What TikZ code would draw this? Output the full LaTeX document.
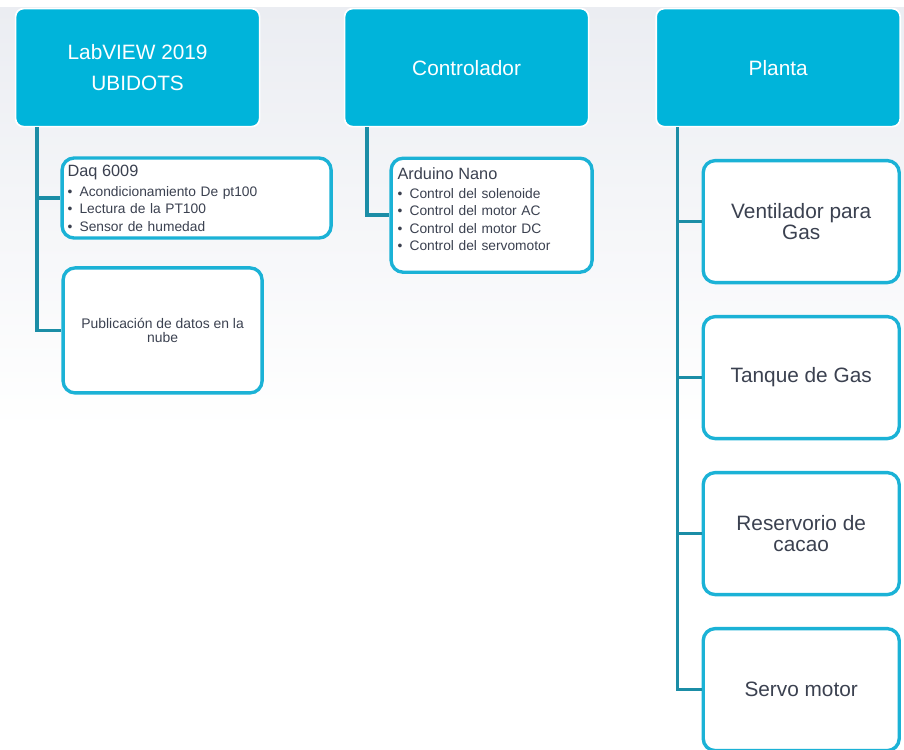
\documentclass[tikz,border=0pt]{standalone}
\usepackage{fontspec}
\setmainfont{Liberation Sans}
\usepackage{xcolor}
\definecolor{cyanbox}{HTML}{00B4DA}
\definecolor{cyanline}{HTML}{1BB2D6}
\definecolor{tealline}{HTML}{1B8DA6}
\definecolor{textgray}{HTML}{3B4150}
\definecolor{bggray}{HTML}{EBEDF2}
\tikzstyle{topbox} = [rectangle, rounded corners=0.2cm, minimum width=6.1cm, minimum height=2.95cm, text centered, align=center, draw=white, line width=1.2pt, fill=cyanbox, text=white, font=\fontsize{14.8}{22.7}\selectfont]
\tikzstyle{listbox} = [rectangle, rounded corners=0.3cm, draw=cyanline, line width=2.4pt, fill=white, text=textgray, align=left, font=\fontsize{9.8}{12.4}\selectfont]
\tikzstyle{leafbox} = [rectangle, rounded corners=0.3cm, minimum width=4.9cm, minimum height=3.05cm, text centered, align=center, draw=cyanline, line width=2.4pt, fill=white, text=textgray, font=\fontsize{14.8}{15}\selectfont]
\tikzstyle{link} = [draw=tealline, line width=2.6pt]
\newcommand{\listtitle}[1]{{\fontsize{11.6}{14.2}\selectfont #1}}
\newcommand{\listitem}[1]{\makebox[0.3cm][l]{\textbullet}#1}

\begin{document}
\begin{tikzpicture}[node distance=3.9cm]
    \useasboundingbox (0,0) rectangle (22.6,-18.725);
    % fondo
    \fill [top color=bggray, bottom color=white] (0,-0.18) rectangle (22.6,-10.75);

    \node (lab) [topbox] at (3.44,-1.69) {LabVIEW 2019\\UBIDOTS};
    \node (ctrl) [topbox, right of=lab, xshift=4.325cm] {Controlador};
    \node (planta) [topbox, right of=ctrl, xshift=3.89cm] {Planta};

    \node (daq) [listbox, below of=lab, xshift=1.475cm, yshift=0.64cm, minimum width=6.725cm, minimum height=2cm, text width=6.45cm] {\listtitle{Daq 6009}\\[1.8pt]
                                                        \listitem{Acondicionamiento De pt100}\\
                                                        \listitem{Lectura de la PT100}\\
                                                        \listitem{Sensor de humedad}};
    \node (pub) [leafbox, below of=daq, xshift=-0.85cm, yshift=0.59cm, minimum width=4.975cm, minimum height=3.125cm, font=\fontsize{9.9}{10.5}\selectfont] {Publicación de datos en la\\nube};

    \node (ard) [listbox, below of=ctrl, xshift=0.625cm, yshift=0.21cm, minimum width=5.025cm, minimum height=2.85cm, text width=4.7cm] {\listtitle{Arduino Nano}\\[1.2pt]
                                                        \listitem{Control del solenoide}\\
                                                        \listitem{Control del motor AC}\\
                                                        \listitem{Control del motor DC}\\
                                                        \listitem{Control del servomotor}\rule[-0.3cm]{0pt}{0pt}};

    \node (ven) [leafbox, below of=planta, xshift=0.575cm, yshift=0.05cm] {Ventilador para\\Gas};
    \node (tan) [leafbox, below of=ven] {Tanque de Gas};
    \node (res) [leafbox, below of=tan] {Reservorio de\\cacao};
    \node (ser) [leafbox, below of=res] {Servo motor};

    \draw [link] ([xshift=0.55cm]lab.south west) |- (daq.west);
    \draw [link] ([xshift=0.55cm]lab.south west) |- (pub.west);
    \draw [link] ([xshift=0.575cm]ctrl.south west) |- (ard.west);
    \draw [link] ([xshift=0.55cm]planta.south west) |- (ven.west);
    \draw [link] ([xshift=0.55cm]planta.south west) |- (tan.west);
    \draw [link] ([xshift=0.55cm]planta.south west) |- (res.west);
    \draw [link] ([xshift=0.55cm]planta.south west) |- (ser.west);
\end{tikzpicture}
\end{document}
